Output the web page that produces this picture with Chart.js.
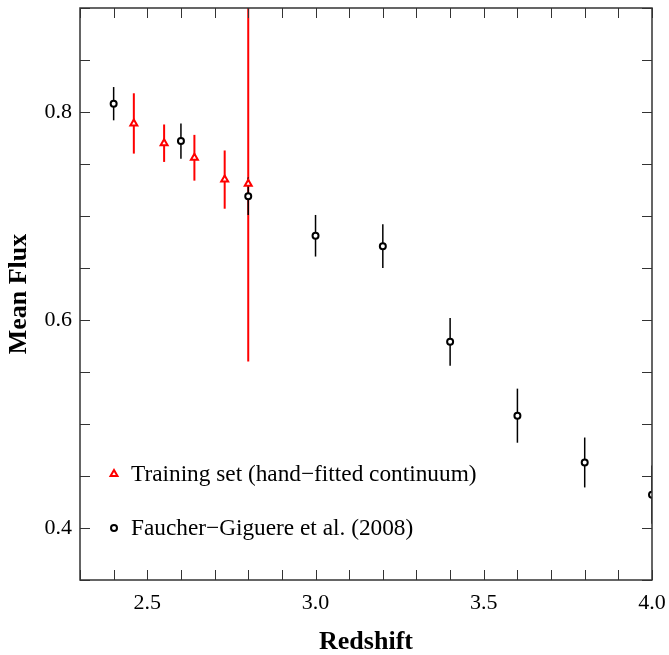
<!DOCTYPE html>
<html>
<head>
<meta charset="utf-8">
<script src="https://cdn.jsdelivr.net/npm/chart.js@4"></script>
<style>
  body { margin: 0; background: #fff; }
  #grafico { display: block; }
</style>
</head>
<body>
<canvas id="grafico" width="669" height="655"></canvas>
<script>
// Faucher-Giguere et al. (2008)
const fgRedshift = [2.4, 2.6, 2.8, 3.0, 3.2, 3.4, 3.6, 3.8, 4.0];
const fgFlux = [0.808, 0.772, 0.719, 0.681, 0.671, 0.579, 0.508, 0.463, 0.432];
const fgErro = [0.016, 0.017, 0.018, 0.020, 0.021, 0.023, 0.026, 0.024, 0.028];

// training set (hand-fitted continuum)
const treinoRedshift = [2.46, 2.55, 2.64, 2.73, 2.80];
const treinoFlux = [0.789, 0.770, 0.756, 0.735, 0.731];
const treinoErro = [0.029, 0.018, 0.022, 0.028, 0.171];

const rotuloTreino = "Training set (hand\u2212fitted continuum)";
const rotuloFG = "Faucher\u2212Giguere et al. (2008)";
const tituloX = "Redshift";
const tituloY = "Mean Flux";

const fonte = "'Liberation Serif', 'Times New Roman', serif";
const vermelho = "#ff0000";

function pontos(xs, ys) {
    return xs.map((x, i) => ({ x: x, y: ys[i] }));
}

// error bars, drawn under the markers
const barrasErro = {
    id: "barrasErro",
    beforeDatasetsDraw(chart) {
        const ctx = chart.ctx;
        const area = chart.chartArea;
        const sx = chart.scales.x;
        const sy = chart.scales.y;
        ctx.save();
        ctx.beginPath();
        ctx.rect(area.left, area.top, area.right - area.left, area.bottom - area.top);
        ctx.clip();
        const desenhar = (xs, ys, es, cor, larg) => {
            ctx.strokeStyle = cor;
            ctx.lineWidth = larg;
            xs.forEach((x, i) => {
                const px = sx.getPixelForValue(x);
                ctx.beginPath();
                ctx.moveTo(px, sy.getPixelForValue(ys[i] - es[i]));
                ctx.lineTo(px, sy.getPixelForValue(ys[i] + es[i]));
                ctx.stroke();
            });
        };
        desenhar(treinoRedshift, treinoFlux, treinoErro, vermelho, 2);
        desenhar(fgRedshift, fgFlux, fgErro, "#000", 1.5);
        ctx.restore();
    }
};

// frame, inward ticks on all four sides, legend inside the plot
const moldura = {
    id: "moldura",
    afterDraw(chart) {
        const ctx = chart.ctx;
        const a = chart.chartArea;
        const sx = chart.scales.x;
        const sy = chart.scales.y;
        const tam = 10;
        ctx.save();
        ctx.strokeStyle = "#333";
        ctx.lineWidth = 1;
        sx.ticks.forEach(t => {
            const px = Math.round(sx.getPixelForValue(t.value)) + 0.5;
            ctx.beginPath();
            ctx.moveTo(px, a.bottom); ctx.lineTo(px, a.bottom - tam);
            ctx.moveTo(px, a.top); ctx.lineTo(px, a.top + tam);
            ctx.stroke();
        });
        sy.ticks.forEach(t => {
            const py = Math.round(sy.getPixelForValue(t.value)) + 0.5;
            ctx.beginPath();
            ctx.moveTo(a.left, py); ctx.lineTo(a.left + tam, py);
            ctx.moveTo(a.right, py); ctx.lineTo(a.right - tam, py);
            ctx.stroke();
        });
        ctx.lineWidth = 1.5;
        ctx.strokeRect(a.left, a.top, a.right - a.left, a.bottom - a.top);

        // legend
        const lx = 114;
        const tx = 131;
        const linhas = [
            { y: 474, texto: rotuloTreino, estilo: "triangle", cor: vermelho, raio: 4 },
            { y: 528, texto: rotuloFG, estilo: "circle", cor: "#000", raio: 3 }
        ];
        ctx.font = "23.3px " + fonte;
        ctx.textBaseline = "middle";
        ctx.textAlign = "left";
        linhas.forEach(l => {
            ctx.fillStyle = "#fff";
            ctx.strokeStyle = l.cor;
            ctx.lineWidth = 2;
            Chart.helpers.drawPoint(ctx, { pointStyle: l.estilo, radius: l.raio, borderWidth: 2 }, lx, l.y);
            ctx.fillStyle = "#000";
            ctx.fillText(l.texto, tx, l.y + 1);
        });
        ctx.restore();
    }
};

const ehMeio = v => Math.abs(v * 2 - Math.round(v * 2)) < 1e-6;
const ehDecimo = v => Math.abs(v * 5 - Math.round(v * 5)) < 1e-6;

new Chart(document.getElementById("grafico").getContext("2d"), {
    type: "scatter",
    data: {
        datasets: [
            {
                label: rotuloFG,
                data: pontos(fgRedshift, fgFlux),
                pointStyle: "circle",
                pointRadius: 3,
                pointBorderWidth: 2,
                borderColor: "#000",
                backgroundColor: "#fff",
                clip: 0
            },
            {
                label: rotuloTreino,
                data: pontos(treinoRedshift, treinoFlux),
                pointStyle: "triangle",
                pointRadius: 4,
                pointBorderWidth: 2,
                borderColor: vermelho,
                backgroundColor: "#fff",
                clip: 0
            }
        ]
    },
    options: {
        responsive: false,
        animation: false,
        layout: { padding: { top: 8, right: 17, left: 0, bottom: 0 } },
        plugins: {
            legend: { display: false },
            tooltip: { enabled: false }
        },
        scales: {
            x: {
                type: "linear",
                min: 2.3,
                max: 4.0,
                grid: { display: false, drawTicks: false },
                border: { display: false },
                afterFit: s => { s.height = 75; s.paddingLeft = 0; s.paddingRight = 0; },
                ticks: {
                    stepSize: 0.1,
                    padding: 10,
                    color: "#000",
                    maxRotation: 0,
                    autoSkip: false,
                    font: { family: fonte, size: 22 },
                    callback: v => ehMeio(v) ? v.toFixed(1) : ""
                },
                title: {
                    display: true,
                    text: tituloX,
                    color: "#000",
                    padding: { top: 0, bottom: -3 },
                    font: { family: fonte, size: 26, weight: "bold" }
                }
            },
            y: {
                type: "linear",
                min: 0.35,
                max: 0.9,
                grid: { display: false, drawTicks: false },
                border: { display: false },
                afterFit: s => { s.width = 80; s.paddingTop = 0; s.paddingBottom = 0; },
                ticks: {
                    stepSize: 0.05,
                    padding: 8,
                    color: "#000",
                    autoSkip: false,
                    font: { family: fonte, size: 22 },
                    callback: v => (ehDecimo(v) && Math.round(v * 10) % 2 === 0) ? v.toFixed(1) : ""
                },
                title: {
                    display: true,
                    text: tituloY,
                    color: "#000",
                    padding: { top: 4, bottom: 0 },
                    font: { family: fonte, size: 26, weight: "bold" }
                }
            }
        }
    },
    plugins: [barrasErro, moldura]
});
</script>
</body>
</html>
